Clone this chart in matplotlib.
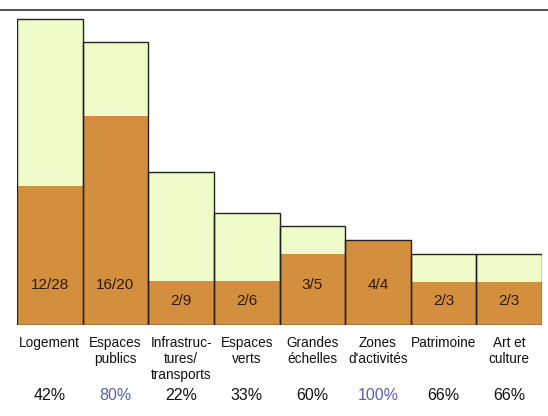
import matplotlib
matplotlib.use("Agg")
import matplotlib.pyplot as plt
from matplotlib.lines import Line2D

# categories and counts (done / total)
categories = ["Logement", "Espaces\npublics", "Infrastruc-\ntures/\ntransports",
              "Espaces\nverts", "Grandes\néchelles", "Zones\nd'activités",
              "Patrimoine", "Art et\nculture"]
done = [12, 16, 2, 2, 3, 4, 2, 2]
total = [28, 20, 9, 6, 5, 4, 3, 3]
percent_labels = ["42%", "80%", "22%", "33%", "60%", "100%", "66%", "66%"]

# drawn bar heights (not proportional to counts)
total_height = [306, 283, 153, 112, 99, 85, 71, 71]
done_height = [139, 209, 44, 44, 71, 85, 43, 43]

green = "#effcc9"
orange = "#d38f3d"
highlight = [1, 5]  # percentages shown in blue

plt.rcParams['font.family'] = ['Liberation Sans', 'DejaVu Sans']

fig = plt.figure(figsize=(5.48, 4.16), dpi=100)
W, H = 548, 416
ax = fig.add_axes([17 / W, (H - 325) / H, (542 - 17) / W, 315 / H])

x = list(range(len(categories)))
ax.bar(x, total_height, width=1.0, color=green, linewidth=0)
ax.bar(x, done_height, width=1.0, color=orange, linewidth=0)
ax.bar(x, total_height, width=1.0, fill=False, edgecolor="#222222", linewidth=1.0)

ax.set_xlim(-0.5, len(categories) - 0.5)
ax.set_ylim(0, 315)
ax.axis("off")

for i in x:
    # count label inside orange part
    ly = 40 if done_height[i] > 60 else 24
    ax.text(i, ly, f"{done[i]}/{total[i]}", ha="center", va="center",
            fontsize=11, color="#2b1a08")
    ax.text(i, -11, categories[i], ha="center", va="top", fontsize=9.8,
            color="#111111", linespacing=1.2, clip_on=False)
    pc = "#5b5fae" if i in highlight else "#111111"
    ax.text(i, -70, percent_labels[i], ha="center", va="center", fontsize=11.5,
            color=pc, clip_on=False)

# horizontal rule at top
fig.add_artist(Line2D([0, 1], [(H - 10) / H, (H - 10) / H], color="#333333",
                      linewidth=1.2, transform=fig.transFigure))

fig.savefig("out.png", dpi=100)
